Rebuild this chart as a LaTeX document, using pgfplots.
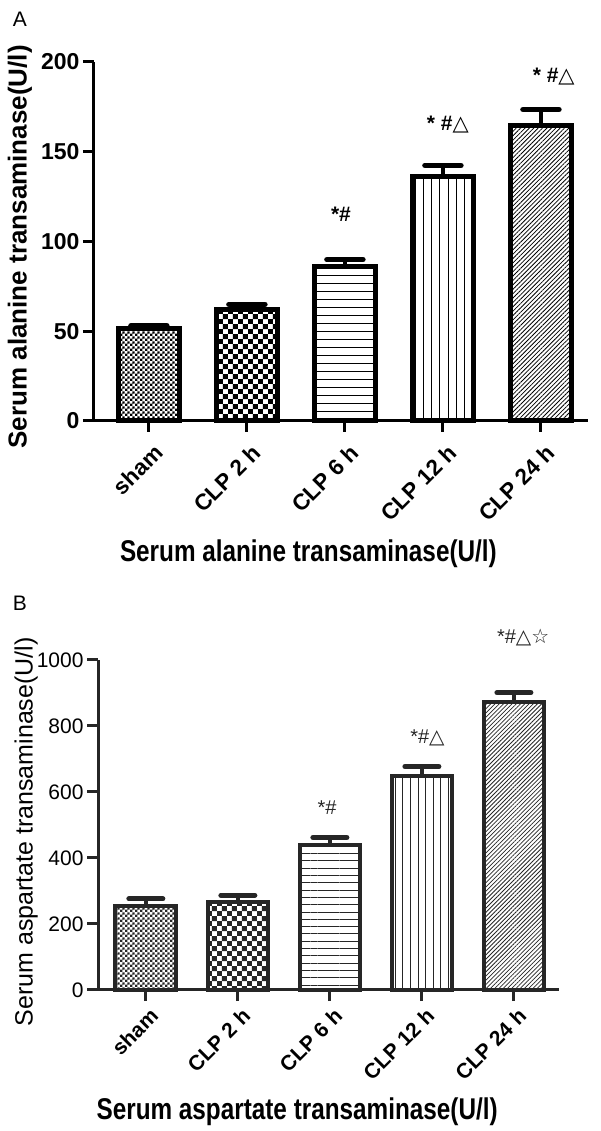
\documentclass[border=0pt]{standalone}
\usepackage{fontspec}
\setmainfont{Liberation Sans}
\newfontfamily\narrowfont[FakeStretch=0.81]{Liberation Sans}
\newfontfamily\symfont{DejaVu Sans}
\usepackage{pgfplots}
\pgfplotsset{compat=1.18}
\usetikzlibrary{patterns,patterns.meta}

% fine and coarse checkerboards
\pgfdeclarepatternformonly{finechecker}{\pgfpointorigin}{\pgfqpoint{4.8pt}{4.8pt}}{\pgfqpoint{4.8pt}{4.8pt}}{%
  \pgfpathrectangle{\pgfpointorigin}{\pgfqpoint{2.4pt}{2.4pt}}%
  \pgfpathrectangle{\pgfqpoint{2.4pt}{2.4pt}}{\pgfqpoint{2.4pt}{2.4pt}}%
  \pgfusepath{fill}}
\pgfdeclarepatternformonly{bigchecker}{\pgfpointorigin}{\pgfqpoint{10.4pt}{10.4pt}}{\pgfqpoint{10.4pt}{10.4pt}}{%
  \pgfpathrectangle{\pgfpointorigin}{\pgfqpoint{5.2pt}{5.2pt}}%
  \pgfpathrectangle{\pgfqpoint{5.2pt}{5.2pt}}{\pgfqpoint{5.2pt}{5.2pt}}%
  \pgfusepath{fill}}

\pgfplotsset{
  panel/.style={
    scale only axis, anchor=south west, clip=false,
    axis lines*=left,
    ybar, bar shift=0pt,
    ymin=0, xtick={0,...,4},
    xticklabels={sham,CLP 2 h,CLP 6 h,CLP 12 h,CLP 24 h},
    tick align=outside, major tick length=11pt,
    /pgf/number format/assume math mode=true,
    /pgf/number format/1000 sep={},
    ylabel style={anchor=center},
    xlabel style={anchor=center},
    error bars/y dir=plus, error bars/y explicit,
    error bars/error mark=|,
  },
  barA/.style={draw=black, line width=5pt},
  barB/.style={draw=black!85, pattern color=black!85, line width=4pt},
}

\begin{document}
\begin{tikzpicture}
\useasboundingbox (0,0) rectangle (600pt,1131pt);

\node[font=\fontsize{21}{21}\selectfont] at (20pt,1112pt) {A};
\node[font=\fontsize{21}{21}\selectfont] at (20pt,528pt) {B};

% ---------- panel A
\begin{axis}[panel,
  at={(94pt,710pt)}, width=494pt, height=359pt,
  xmin=-0.56, xmax=4.48, ymax=200, ytick={0,50,...,200},
  bar width=0.63,
  axis line style={line width=3pt, black},
  tick style={line width=3pt, black},
  error bars/error bar style={line width=4pt, black, solid},
  error bars/error mark options={line width=5.5pt, mark size=18pt, black, line cap=round},
  x tick label style={xshift=4pt, yshift=-6pt, rotate=45, anchor=north east, font=\bfseries\fontsize{22.5}{22.5}\selectfont},
  y tick label style={font=\bfseries\fontsize{23}{23}\selectfont},
  ylabel={Serum alanine transaminase(U/l)},
  ylabel style={at={(axis description cs:-0.15,0.485)}, font=\bfseries\fontsize{26}{26}\selectfont},
  xlabel={Serum alanine transaminase(U/l)},
  xlabel style={at={(axis description cs:0.434,-0.37)}, font=\narrowfont\bfseries\fontsize{30}{30}\selectfont},
]
\addplot[barA, pattern=finechecker] coordinates {(0,51.5) +- (0,1.5)};
\addplot[barA, pattern=bigchecker] coordinates {(1,62.2) +- (0,2.8)};
\addplot[barA, pattern={Lines[angle=0,distance=8pt,line width=0.9pt]}] coordinates {(2,86) +- (0,3.9)};
\addplot[barA, pattern={Lines[angle=90,distance=8.3pt,line width=0.9pt]}] coordinates {(3,136.4) +- (0,6)};
\addplot[barA, pattern={Lines[angle=45,distance=3.1pt,line width=0.8pt]}] coordinates {(4,164.5) +- (0,9)};
\node[font=\bfseries\fontsize{21}{21}\selectfont] at (axis cs:1.96,115) {*\#};
\node[font=\bfseries\fontsize{21}{21}\selectfont] at (axis cs:3.05,165) {* \#{\symfont\mdseries △}};
\node[font=\bfseries\fontsize{21}{21}\selectfont] at (axis cs:4.13,192) {* \#{\symfont\mdseries △}};
\end{axis}

% ---------- panel B
\begin{axis}[panel,
  at={(98pt,141pt)}, width=461pt, height=330pt,
  xmin=-0.52, xmax=4.49, ymax=1000, ytick={0,200,...,1000},
  bar width=0.66,
  axis line style={line width=3pt, black!85},
  tick style={line width=3pt, black!85},
  error bars/error bar style={line width=3.5pt, black!85, solid},
  error bars/error mark options={line width=5pt, mark size=17pt, black!85, line cap=round},
  x tick label style={xshift=3pt, yshift=-1pt, rotate=45, anchor=north east, font=\bfseries\fontsize{21}{21}\selectfont},
  y tick label style={font=\fontsize{21}{21}\selectfont},
  ylabel={Serum aspartate transaminase(U/l)},
  ylabel style={at={(axis description cs:-0.156,0.479)}, font=\fontsize{25}{25}\selectfont},
  xlabel={Serum aspartate transaminase(U/l)},
  xlabel style={at={(axis description cs:0.432,-0.37)}, font=\narrowfont\bfseries\fontsize{30}{30}\selectfont},
]
\addplot[barB, pattern=finechecker] coordinates {(0,254) +- (0,22)};
\addplot[barB, pattern=bigchecker] coordinates {(1,267) +- (0,20)};
\addplot[barB, pattern={Lines[angle=0,distance=7.3pt,line width=0.9pt]}] coordinates {(2,438) +- (0,24)};
\addplot[barB, pattern={Lines[angle=90,distance=7.6pt,line width=0.9pt]}] coordinates {(3,647) +- (0,30)};
\addplot[barB, pattern={Lines[angle=45,distance=3pt,line width=0.8pt]}] coordinates {(4,874) +- (0,27)};
\node[font=\fontsize{20}{20}\selectfont, text=black!85] at (axis cs:1.97,552) {*\#};
\node[font=\fontsize{20}{20}\selectfont, text=black!85] at (axis cs:3.06,764) {*\#{\symfont △}};
\node[font=\fontsize{20}{20}\selectfont, text=black!85] at (axis cs:4.1,1069) {*\#{\symfont △☆}};
\end{axis}
\end{tikzpicture}
\end{document}
